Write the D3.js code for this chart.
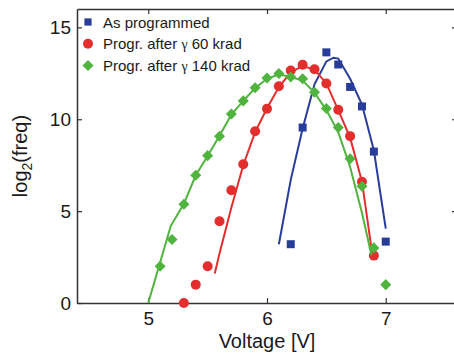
<!DOCTYPE html>
<html>
<head>
<meta charset="utf-8">
<script src="https://cdn.jsdelivr.net/npm/d3@7"></script>
<style>
body { margin: 0; background: #fff; }
text { font-family: Arial, "Liberation Sans", Helvetica, sans-serif; fill: #1a1a1a; }
</style>
</head>
<body>
<script>
// As programmed (squares) and its fit line
var voltProg = [6.2, 6.3, 6.5, 6.6, 6.7, 6.8, 6.9, 7.0];
var freqProg = [3.2, 9.55, 13.64, 12.98, 11.76, 10.7, 8.24, 3.34];
var fitVoltProg = [6.1, 6.2, 6.3, 6.4, 6.5, 6.56, 6.6, 6.7, 6.8, 6.9, 7.0];
var fitFreqProg = [3.2, 6.7, 9.5, 11.9, 13.15, 13.35, 13.3, 12.2, 10.8, 8.3, 4.05];

// after 60 krad (circles)
var volt60 = [5.3, 5.4, 5.5, 5.6, 5.7, 5.8, 5.9, 6.0, 6.1, 6.2, 6.3, 6.4, 6.5, 6.6, 6.7, 6.8, 6.9];
var freq60 = [0, 1.0, 2.0, 4.45, 6.14, 7.55, 9.35, 10.57, 11.8, 12.65, 12.97, 12.72, 11.95, 10.52, 9.08, 6.6, 2.58];
var fitVolt60 = [5.56, 5.6, 5.7, 5.8, 5.9, 6.0, 6.1, 6.2, 6.3, 6.4, 6.5, 6.6, 6.7, 6.8, 6.89];
var fitFreq60 = [1.6, 2.7, 5.2, 7.5, 9.3, 10.6, 11.75, 12.55, 12.9, 12.7, 11.95, 10.5, 9.0, 6.6, 2.5];

// after 140 krad (diamonds)
var volt140 = [5.1, 5.2, 5.3, 5.4, 5.5, 5.6, 5.7, 5.8, 5.9, 6.0, 6.1, 6.2, 6.3, 6.4, 6.5, 6.6, 6.7, 6.8, 6.9, 7.0];
var freq140 = [2.0, 3.45, 5.38, 6.95, 8.02, 9.08, 10.28, 11.0, 11.72, 12.25, 12.49, 12.3, 12.2, 11.47, 10.59, 9.55, 7.85, 6.35, 3.0, 1.0];
var fitVolt140 = [5.0, 5.19, 5.3, 5.4, 5.5, 5.6, 5.7, 5.8, 5.9, 6.0, 6.1, 6.2, 6.3, 6.4, 6.5, 6.6, 6.7, 6.8, 6.88];
var fitFreq140 = [0, 4.2, 5.4, 6.95, 8.0, 9.1, 10.25, 11.0, 11.7, 12.2, 12.45, 12.3, 12.1, 11.45, 10.5, 9.3, 7.4, 4.9, 2.6];

var xTicks = [5, 6, 7];
var yTicks = [0, 5, 10, 15];
var legendNames = ["As programmed", "Progr. after \u03b3 60 krad", "Progr. after \u03b3 140 krad"];

var vis = {
  width: 454,
  height: 356,
  left: 77,
  right: 457,
  top: 9,
  bottom: 303,
  axisColor: "#333"
};

var svg = d3.select("body").append("svg")
  .attr("width", vis.width)
  .attr("height", vis.height);

var x = d3.scaleLinear().domain([4.4, 7.6]).range([vis.left, vis.right]);
var y = d3.scaleLinear().domain([0, 16]).range([vis.bottom, vis.top]);

// axes, ticks pointing inward
function styleAxis(g) {
  g.select(".domain").attr("stroke", vis.axisColor).attr("stroke-width", 1.5);
  g.selectAll(".tick line").attr("stroke", vis.axisColor).attr("stroke-width", 1.2);
  g.selectAll(".tick text").attr("fill", "#1a1a1a").style("font-size", "19px")
    .attr("font-family", null);
}

svg.append("g")
  .attr("transform", "translate(0," + vis.bottom + ")")
  .call(d3.axisBottom(x).tickValues(xTicks).tickSize(-5).tickSizeOuter(0).tickPadding(9).tickFormat(d3.format("d")))
  .call(styleAxis);

svg.append("g")
  .attr("transform", "translate(0," + vis.top + ")")
  .call(d3.axisTop(x).tickValues(xTicks).tickSize(-5).tickSizeOuter(0).tickFormat(""))
  .call(styleAxis);

svg.append("g")
  .attr("transform", "translate(" + vis.left + ",0)")
  .call(d3.axisLeft(y).tickValues(yTicks).tickSize(-5).tickSizeOuter(0).tickPadding(6).tickFormat(d3.format("d")))
  .call(styleAxis);

svg.append("g")
  .attr("transform", "translate(" + vis.right + ",0)")
  .call(d3.axisRight(y).tickValues(yTicks).tickSize(-5).tickSizeOuter(0).tickFormat(""))
  .call(styleAxis);

// series: fit line + markers
var series = [
  { pv: voltProg, pf: freqProg, lv: fitVoltProg, lf: fitFreqProg, color: "#283c9a", shape: "square" },
  { pv: volt60, pf: freq60, lv: fitVolt60, lf: fitFreq60, color: "#e42d2d", shape: "circle" },
  { pv: volt140, pf: freq140, lv: fitVolt140, lf: fitFreq140, color: "#4fb33d", shape: "diamond" }
];

var line = d3.line()
  .x(function(d) { return x(d[0]); })
  .y(function(d) { return y(d[1]); });

function marker(sel, shape, color, s) {
  if (shape === "circle") {
    sel.append("circle").attr("r", 5 * s).attr("fill", color);
  } else if (shape === "square") {
    sel.append("rect").attr("x", -4 * s).attr("y", -4 * s)
      .attr("width", 8 * s).attr("height", 8 * s).attr("fill", color);
  } else {
    sel.append("rect").attr("x", -3.9 * s).attr("y", -3.9 * s)
      .attr("width", 7.8 * s).attr("height", 7.8 * s).attr("fill", color)
      .attr("transform", "rotate(45)");
  }
}

series.forEach(function(s) {
  svg.append("path")
    .datum(d3.zip(s.lv, s.lf))
    .attr("d", line)
    .attr("fill", "none")
    .attr("stroke", s.color)
    .attr("stroke-width", 2);

  svg.selectAll(null)
    .data(d3.zip(s.pv, s.pf))
    .enter()
    .append("g")
    .attr("transform", function(d) { return "translate(" + x(d[0]) + "," + y(d[1]) + ")"; })
    .each(function() { marker(d3.select(this), s.shape, s.color, 1); });
});

// legend
var legend = svg.selectAll(".leg")
  .data(series)
  .enter()
  .append("g")
  .attr("transform", function(d, i) { return "translate(88," + (22 + i * 21.7) + ")"; });

legend.each(function(d, i) {
  var g = d3.select(this);
  marker(g, d.shape, d.color, i === 0 ? 0.9 : 1);
  var t = g.append("text").attr("x", 15).attr("y", 5.5).style("font-size", "15px");
  var parts = legendNames[i].split("\u03b3");
  t.append("tspan").text(parts[0]);
  if (parts.length > 1) {
    t.append("tspan").text("\u03b3").style("font-family", "'Liberation Serif', 'DejaVu Serif', serif").style("font-size", "14px");
    t.append("tspan").text(parts[1]);
  }
});

// axis labels
svg.append("text")
  .attr("x", (vis.left + vis.right) / 2)
  .attr("y", 348)
  .attr("text-anchor", "middle")
  .style("font-size", "20px")
  .text("Voltage [V]");

var yl = svg.append("text")
  .attr("transform", "translate(27," + ((vis.top + vis.bottom) / 2) + ") rotate(-90)")
  .attr("text-anchor", "middle")
  .style("font-size", "20px");
yl.append("tspan").text("log");
yl.append("tspan").text("2").attr("dy", 5).style("font-size", "14px");
yl.append("tspan").text("(freq)").attr("dy", -5);
</script>
</body>
</html>
